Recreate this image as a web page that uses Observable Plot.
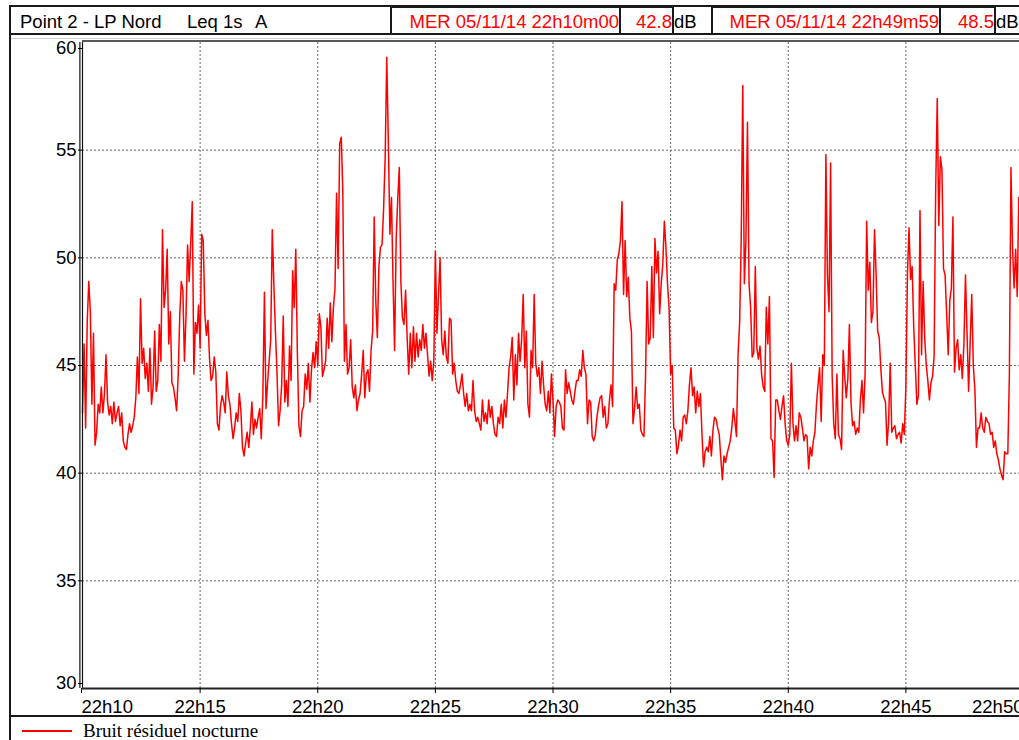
<!DOCTYPE html>
<html>
<head>
<meta charset="utf-8">
<script src="https://cdn.jsdelivr.net/npm/d3@7"></script>
<script src="https://cdn.jsdelivr.net/npm/@observablehq/plot@0.6"></script>
<style>
html, body { margin:0; padding:0; background:#fff; overflow:hidden; }
#wrap { position:relative; width:1019px; height:740px; overflow:hidden; font-family:"Liberation Sans", Arial, sans-serif; font-size:18.5px; color:#000; }
#chart { position:absolute; left:0; top:0; }
.ln { position:absolute; background:#1a1a1a; }
.txt { position:absolute; white-space:nowrap; line-height:27px; top:8px; height:27px; }
.box { position:absolute; top:6px; height:29px; box-sizing:border-box; border:2px solid #1a1a1a; color:#ff0000; text-align:right; line-height:27px; white-space:nowrap; overflow:hidden; background:#fff; }
</style>
</head>
<body>
<div id="wrap">
  <div id="chart"></div>
  <div id="header"></div>
  <div id="legend"></div>
</div>
<script>
// ---- Header texts ----
const headerTitle = "Point 2 - LP Nord";
const headerMeasure = "Leq 1s";
const headerWeighting = "A";
const cursorStartLabel = "MER 05/11/14 22h10m00";
const cursorStartValue = "42.8";
const cursorEndLabel = "MER 05/11/14 22h49m59";
const cursorEndValue = "48.5";
const unit = "dB";
const seriesName = "Bruit résiduel nocturne";

// ---- Axis ticks ----
const yTicks = [30, 35, 40, 45, 50, 55, 60];
const xTickMinutes = [10, 15, 20, 25, 30, 35, 40, 45, 50];
const xTickLabels = ["22h10", "22h15", "22h20", "22h25", "22h30", "22h35", "22h40", "22h45", "22h50"];

// ---- Data: Leq (dB) sampled every 4 s, one array per 5-minute block ----
const sampleStepSec = 4;
const block2210 = [42.8,46,42.1,47,48.9,47.5,43.2,46.5,41.3,41.9,
  43.2,42.8,44,42.8,43.7,45.5,43.3,42.7,43.1,42.3,
  43.3,42.4,42.8,43.1,42.2,42.8,41.5,41.2,41.1,41.8,
  42.3,41.9,42.2,42.6,43.5,45.4,43.7,48.1,45.1,45.8,
  44.4,45.1,43.8,45.8,43.2,44,46.6,43.8,44.3,46.9,
  45.2,51.3,47.7,48.5,50.4,46,47.5,44.2,44,43.5,
  42.9,44.5,47.3,48.9,48.5,45.2,47.3,50.6,48.9,50.7,
  52.6,44.6,47,46.5,47.8];
const block2215 = [45.8,51.1,50.8,47.4,46.4,47.1,45.3,44.3,44.5,45.4,
  44.7,42.3,42,43.1,43.6,43.3,42.8,44.7,43.6,43.2,
  42.3,41.6,42.1,42.8,42.4,43.7,42.9,41.2,40.8,41.4,
  41.9,41.2,42.1,43.3,41.8,42.5,42.1,42.6,43,41.6,
  43.6,48.4,43,44.2,45.2,46.2,51.3,48.8,46.6,44.7,
  42.2,42.9,44.1,47.3,43.3,44.3,43.1,45.9,44.3,49.4,
  47.7,50.4,45.6,42.2,41.7,42.9,43.1,44.6,43.9,45.1,
  43.3,44.8,45.6,44.9,46.1];
const block2220 = [45,47.4,46.8,44.5,44.8,45.2,47.2,45.8,47.9,46.1,
  47.7,48.6,53,49.5,55.3,55.6,53,45.2,46.9,44.6,
  44.9,46.2,44,43.5,44.1,42.9,43.4,43.7,44.6,45.7,
  43.5,44.6,44.8,43.8,45.7,46.6,51.9,48,46.3,49.6,
  50.5,50.6,52.3,54.7,59.3,55.4,51.1,52.8,48.9,45.7,
  50.9,52.7,54.2,48.9,47.2,46.9,48.5,46.3,44.6,46.5,
  44.9,46.8,45.2,46.5,45.4,46.2,45.7,46.9,45.8,46.5,
  45.5,44.5,45.2,44.3,45.2];
const block2225 = [50.3,46.5,48.3,50,46.2,45.5,46.6,45.4,45.1,47.2,
  47.1,44.6,45.1,44.3,43.8,43.7,44.1,44.6,43.7,43.1,
  43.7,42.9,43.2,42.9,44.3,42.9,42.4,42.6,42.3,42,
  43.4,42.4,42.8,42.3,43.4,42.6,43.1,42.3,41.8,41.7,
  42.6,42.3,43.2,42.1,43.4,42.6,43.7,44.9,45.4,46.3,
  43.4,45.5,44.1,46.5,45.2,46.2,48.3,44.9,46.6,43.2,
  42.6,45.7,44.9,48.3,45.1,44.5,44.9,43.7,45.2,44.1,
  43.2,42.9,43.8,42.8,44.6];
const block2230 = [43.4,41.7,43.1,43.4,43.3,43.1,42.1,42,44.8,43.7,
  44.2,43.8,43.4,43.2,43.8,44.3,44.3,44.8,44.5,45.7,
  44.9,44.6,42.3,43.4,43.3,41.7,41.5,41.8,42.6,43.1,
  43.5,43.6,42.6,43.1,42.1,42.3,43.4,44.1,43.1,48.8,
  48.5,49.9,50.2,50.8,52.6,48.3,50.8,48.2,49.1,47.2,
  46.6,42.3,43,44,43,43.2,42,41.8,41.7,44.5,
  48.9,46,46.3,49.6,46.3,50.9,49.3,50.3,47.4,48.8,
  49.7,51.7,50.5,48.8,47.7];
const block2235 = [44.6,45,42.1,42,40.9,41.3,42,41.5,42.6,42.7,
  42.3,42.9,44.1,44.9,43.6,44,42.8,43.8,43.1,43.7,
  41.8,40.3,41,41.2,41,41.7,40.8,42,42.6,42.5,
  42.1,41.8,40.7,39.7,40.8,40.5,40.9,41.2,41.5,42.1,
  43,42.4,41.7,45.5,47,50.8,58,48.8,50.8,56.3,
  48.8,47.7,45.4,45.6,49.6,45.8,45.3,45.9,44.6,44,
  43.8,47.7,46,48.2,41.6,41.5,39.8,43.4,43.4,42.9,
  42.5,43.1,43.6,42.3,41.5];
const block2240 = [41.3,41.8,45.1,42.3,41.5,42.2,41.5,42.8,42.6,42.1,
  41.5,41.8,41.7,40.2,41.2,40.8,41.5,41.9,43.2,44.1,
  44.9,42.4,45.5,45,54.8,49.2,47.5,54.4,44.5,42.3,
  41.6,44.6,41.8,41.6,41.1,45.7,44.5,43.5,44.4,46.9,
  43.3,42.2,42.4,41.8,42.1,41.9,43.4,44.3,42.8,44.6,
  51.7,48.5,49.8,47,47.5,51.3,49.3,46.6,46.3,44.9,
  43.8,43.5,43.3,41.3,42.4,45.1,41.9,42.1,42.2,41.6,
  41.8,41.9,41.4,42.3,41.8];
const block2245 = [44,49.2,51.4,49,49.6,46.8,45,43.2,43.6,52.2,
  45.5,48.9,46.3,45,44.3,43.4,44.2,44.5,45.4,53.1,
  57.4,51.5,54.7,54.1,49.5,49.2,47.4,45.5,48,48.6,
  51.9,44.7,45.8,46.2,44.8,45.5,44.4,46,49.2,46.5,
  43.8,46.1,48.3,45,43.9,41.2,42.1,42.1,42.8,42.1,
  41.9,42.6,42.4,42.3,41.8,41.9,41.2,41.5,40.9,40.6,
  40.2,39.9,39.7,41,40.9,40.9,44.6,54.2,50.5,48.6,
  50.4,48.2,52.8,51.8,48.5];

const blocks = [block2210, block2215, block2220, block2225, block2230, block2235, block2240, block2245];
const startMs = Date.UTC(2014, 10, 5, 22, 10, 0);
const endMs = Date.UTC(2014, 10, 5, 22, 50, 0);
const series = blocks.flatMap((blk, b) =>
  blk.map((v, i) => ({t: new Date(startMs + (b * 300 + i * sampleStepSec) * 1000), v}))
);

const xTicks = xTickMinutes.map(m => new Date(Date.UTC(2014, 10, 5, 22, m, 0)));
const labelOf = new Map(xTicks.map((d, i) => [+d, xTickLabels[i]]));
const fmtX = d => labelOf.get(+d);

const gridStyle = {stroke: "#555", strokeOpacity: 0.9, strokeWidth: 1, strokeDasharray: "2,2"};
const font = {fontSize: 18.5};

const chart = Plot.plot({
  width: 1040,
  height: 716,
  marginLeft: 82,
  marginRight: 17,
  marginTop: 42,
  marginBottom: 28,
  x: {type: "utc", domain: [new Date(startMs), new Date(endMs)], label: null},
  y: {domain: [30, 60], label: null},
  style: {maxWidth: "none", background: "transparent", fontFamily: "'Liberation Sans', Arial, sans-serif", fontSize: "18.5px", color: "#000", overflow: "visible"},
  marks: [
    Plot.gridY(yTicks.slice(1, -1), gridStyle),
    Plot.gridX(xTicks.slice(1, -1), gridStyle),
    Plot.line(series, {x: "t", y: "v", stroke: "#ff0000", strokeWidth: 1.5}),
    Plot.ruleX([new Date(startMs)], {stroke: "#111", strokeWidth: 1.2}),
    Plot.ruleX([new Date(startMs)], {stroke: "#111", strokeWidth: 1.2, dx: -2.6}),
    Plot.ruleY([60], {stroke: "#222", strokeWidth: 1.5, dy: -1.5}),
    Plot.ruleY([30], {stroke: "#222", strokeWidth: 1.8}),
    Plot.axisY(yTicks.slice(1, -1), {tickSize: 4, tickPadding: 2, ...font}),
    Plot.axisY([yTicks[yTicks.length - 1]], {tickSize: 4, tickPadding: 2, dy: 6, ...font}),
    Plot.axisY([yTicks[0]], {tickSize: 4, tickPadding: 2, dy: -5, ...font}),
    Plot.axisX([xTicks[0]], {tickSize: 5, tickPadding: 6.5, tickFormat: fmtX, textAnchor: "start", dx: -1, ...font}),
    Plot.axisX(xTicks.slice(1, -1), {tickSize: 5, tickPadding: 6.5, tickFormat: fmtX, ...font}),
    Plot.axisX([xTicks[xTicks.length - 1]], {tickSize: 5, tickPadding: 6.5, tickFormat: fmtX, textAnchor: "end", dx: 0, ...font})
  ]
});
document.getElementById("chart").append(chart);

// ---- Header (above the plot) ----
const header = document.getElementById("header");
function el(parent, cls, css, text) {
  const d = document.createElement("div");
  if (cls) d.className = cls;
  Object.assign(d.style, css);
  if (text != null) d.textContent = text;
  parent.append(d);
  return d;
}
el(header, "ln", {left: "9px", top: "5px", width: "1010px", height: "2px"});
el(header, "ln", {left: "9px", top: "5px", width: "2px", height: "735px"});
el(header, "ln", {left: "9px", top: "33px", width: "1010px", height: "2px"});
el(header, "ln", {left: "11px", top: "38px", width: "1008px", height: "1px", background: "#cfcfcf"});
el(header, "txt", {left: "20px"}, headerTitle);
el(header, "txt", {left: "187px"}, headerMeasure);
el(header, "txt", {left: "255px"}, headerWeighting);
el(header, "box", {left: "390px", width: "231px"}, cursorStartLabel);
el(header, "box", {left: "619px", width: "55px"}, cursorStartValue);
el(header, "txt", {left: "674px"}, unit);
el(header, "box", {left: "711px", width: "230px"}, cursorEndLabel);
el(header, "box", {left: "939px", width: "57px"}, cursorEndValue);
el(header, "txt", {left: "996px"}, unit);

// ---- Legend (below the plot) ----
const legend = document.getElementById("legend");
el(legend, "ln", {left: "9px", top: "715px", width: "1010px", height: "2px"});
el(legend, "ln", {left: "22px", top: "730px", width: "50px", height: "1.5px", background: "#ff0000"});
el(legend, null, {position: "absolute", left: "83px", top: "719px", lineHeight: "24px", fontFamily: "'Liberation Serif', 'Times New Roman', serif", fontSize: "19px", whiteSpace: "nowrap"}, seriesName);
</script>
</body>
</html>
